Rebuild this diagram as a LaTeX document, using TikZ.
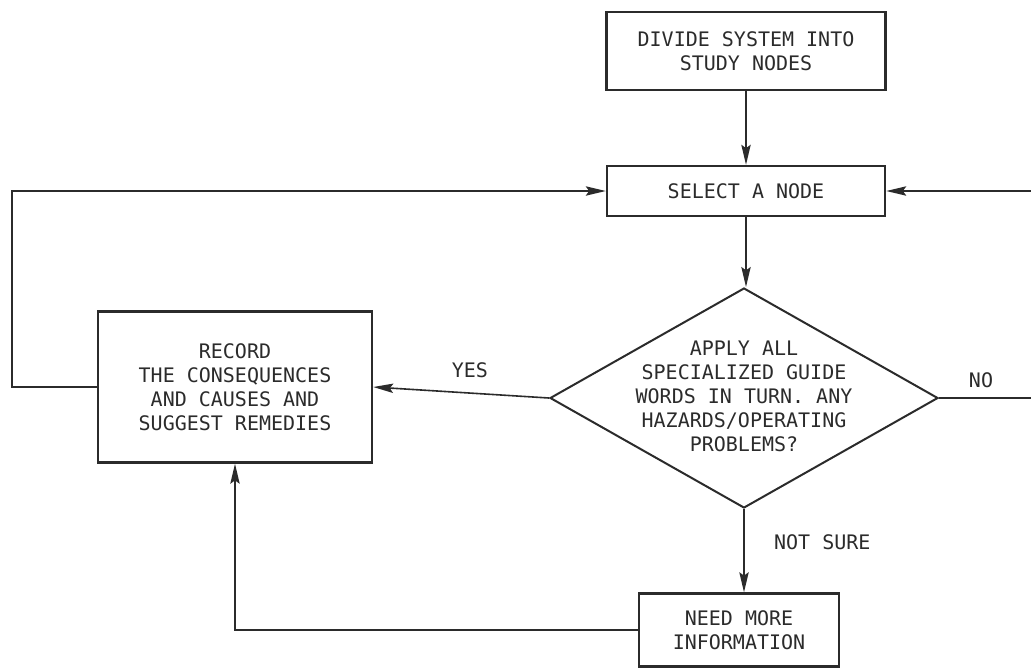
\documentclass[tikz,border=0pt]{standalone}
\usepackage{fontspec}
\newfontfamily\plotfont{DejaVu Sans Mono}
\usetikzlibrary{arrows.meta,shapes.geometric}
\definecolor{ink}{HTML}{2B2B2B}
\tikzset{
  every node/.style={font=\plotfont\fontsize{15}{18}\selectfont, text=ink},
  procbox/.style={draw=ink, line width=1.8pt, rectangle, inner sep=0pt, align=center},
  decbox/.style={draw=ink, line width=1.5pt, diamond, inner sep=0pt},
  flow/.style={draw=ink, line width=1.2pt, -{Stealth[length=15pt,width=7pt,inset=2.5pt]}},
  lbl/.style={inner sep=0pt}
}
\begin{document}
\begin{tikzpicture}[x=0.75pt,y=-0.75pt]
\useasboundingbox (0,0) rectangle (1031,669);

\node[procbox, minimum width=279*0.75pt, minimum height=78*0.75pt] (div) at (746,51)
  {DIVIDE SYSTEM INTO\\STUDY NODES};
\node[procbox, minimum width=278*0.75pt, minimum height=50*0.75pt] (sel) at (746,191)
  {SELECT A NODE};
\node[decbox, minimum width=388*0.75pt, minimum height=220*0.75pt] (dec) at (744,398)
  {\makebox[0pt]{\smash{\raisebox{-3.8pt}{\begin{tabular}{@{}c@{}}APPLY ALL\\SPECIALIZED GUIDE\\WORDS IN TURN. ANY\\HAZARDS/OPERATING\\PROBLEMS?\end{tabular}}}}};
\node[procbox, minimum width=274*0.75pt, minimum height=151*0.75pt] (rec) at (235,387)
  {RECORD\\THE CONSEQUENCES\\AND CAUSES AND\\SUGGEST REMEDIES};
\node[procbox, minimum width=200*0.75pt, minimum height=73*0.75pt] (need) at (739,630)
  {NEED MORE\\INFORMATION};

\coordinate (lft) at (12,0);
\coordinate (rgt) at (1042,0);

\draw[flow] (div.south) -- (sel.north);
\draw[flow] (sel.south) -- (sel.south |- dec.north);
\draw[flow] (dec.west) -- (rec.east) node[lbl, pos=0.45, above=11pt] (yes) {YES};
\draw[flow] (dec.south) -- (dec.south |- need.north) node[lbl, pos=0.4, right=22pt] (ns) {NOT SURE};
\draw[flow] (dec.east) -- (dec.east -| rgt) |- (sel.east);
\node[lbl] (no) at (981,380) {NO};
\draw[flow] (rec.west) -- (rec.west -| lft) |- (sel.west);
\draw[flow] (need.west) -| (rec.south);
\end{tikzpicture}
\end{document}
